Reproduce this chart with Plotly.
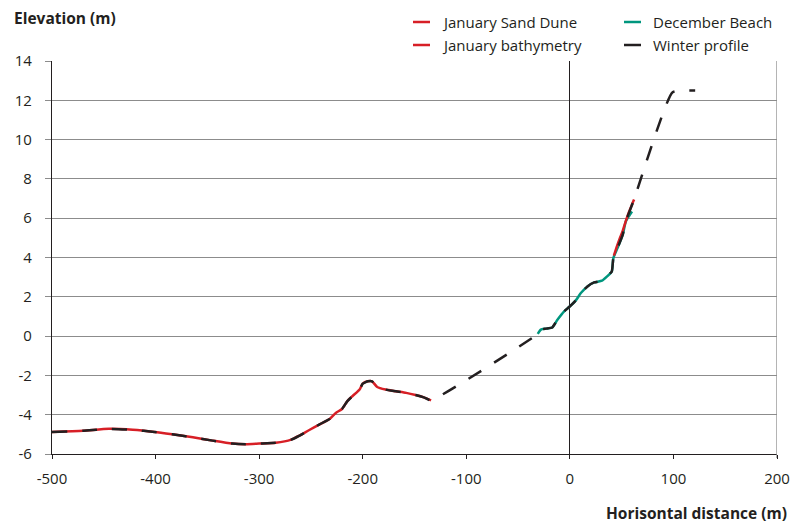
import plotly.graph_objects as go

# --- Profile data (horizontal distance in m, elevation in m) ---
january_bathymetry_x = [-500, -470, -445, -422, -401, -384, -364, -345, -326, -313, -300,
                        -284, -269, -261, -252, -242, -232, -226, -220, -215, -210, -203,
                        -200, -195, -191, -186, -178, -168, -158, -149, -141, -134]
january_bathymetry_y = [-4.88, -4.82, -4.72, -4.77, -4.88, -5.00, -5.15, -5.32, -5.47, -5.50, -5.47,
                        -5.43, -5.27, -5.06, -4.79, -4.50, -4.22, -3.91, -3.71, -3.32, -3.06, -2.72,
                        -2.42, -2.30, -2.30, -2.59, -2.72, -2.81, -2.89, -3.00, -3.12, -3.27]

december_beach_x = [-31, -28, -23, -17, -12, -5.5, -0.7, 5.8, 10.6, 17, 23.5, 31, 36, 40.5,
                    42, 46, 51, 54, 57, 60]
december_beach_y = [0.11, 0.33, 0.38, 0.44, 0.83, 1.26, 1.48, 1.82, 2.19, 2.53, 2.73, 2.82, 3.04, 3.29,
                    3.97, 4.48, 5.15, 5.83, 6.10, 6.34]

january_dune_x = [42.5, 45, 48, 51, 54, 57, 60, 62]
january_dune_y = [4.10, 4.50, 4.95, 5.35, 5.85, 6.30, 6.70, 6.95]

winter_x = [-500, -470, -445, -422, -401, -384, -364, -345, -326, -313, -300,
            -284, -269, -261, -252, -242, -232, -226, -220, -215, -210, -203,
            -200, -195, -191, -186, -178, -168, -158, -149, -141, -134,
            -31, -28, -23, -17, -12, -5.5, -0.7, 5.8, 10.6, 17, 23.5, 31, 36, 40.5,
            42, 46, 51, 54, 58, 62, 99, 121]
winter_y = [-4.88, -4.82, -4.72, -4.77, -4.88, -5.00, -5.15, -5.32, -5.47, -5.50, -5.47,
            -5.43, -5.27, -5.06, -4.79, -4.50, -4.22, -3.91, -3.71, -3.32, -3.06, -2.72,
            -2.42, -2.30, -2.30, -2.59, -2.72, -2.81, -2.89, -3.00, -3.12, -3.27,
            0.11, 0.33, 0.38, 0.44, 0.83, 1.26, 1.48, 1.82, 2.19, 2.53, 2.73, 2.82, 3.04, 3.29,
            3.97, 4.48, 5.15, 5.83, 6.40, 6.95, 12.40, 12.50]

x_ticks = [-500, -400, -300, -200, -100, 0, 100, 200]
y_ticks = [-6, -4, -2, 0, 2, 4, 6, 8, 10, 12, 14]

RED = "#d71f26"
TEAL = "#00967e"
BLACK = "#231f20"
GRID = "#8c8c8c"
FONT = "Open Sans"

# Plot area in pixels (used to place the legend and titles)
W, H = 792, 524
L, R, T, B = 52, 15, 61, 70
PW, PH = W - L - R, H - T - B


def px_x(p):
    return (p - L) / PW


def px_y(p):
    return (T + PH - p) / PH


fig = go.Figure()

fig.add_trace(go.Scatter(x=january_bathymetry_x, y=january_bathymetry_y, mode="lines",
                         line=dict(color=RED, width=2.5, shape="spline", smoothing=0.6),
                         name="January bathymetry", showlegend=False))
fig.add_trace(go.Scatter(x=december_beach_x, y=december_beach_y, mode="lines",
                         line=dict(color=TEAL, width=2.5, shape="spline", smoothing=0.6),
                         name="December Beach", showlegend=False))
fig.add_trace(go.Scatter(x=january_dune_x, y=january_dune_y, mode="lines",
                         line=dict(color=RED, width=2.5, shape="spline", smoothing=0.6),
                         name="January Sand Dune", showlegend=False))
fig.add_trace(go.Scatter(x=winter_x, y=winter_y, mode="lines",
                         line=dict(color=BLACK, width=2.5, dash="15px,15px",
                                   shape="spline", smoothing=0.4),
                         name="Winter profile", showlegend=False))

# Legend drawn as short line samples with labels, in two columns
legend_items = [
    ("January Sand Dune", RED, 413, 22),
    ("January bathymetry", RED, 413, 45),
    ("December Beach", TEAL, 624, 22),
    ("Winter profile", BLACK, 624, 45),
]
shapes = []
annotations = []
for label, color, x0, yc in legend_items:
    shapes.append(dict(type="line", xref="paper", yref="paper",
                       x0=px_x(x0), x1=px_x(x0 + 17), y0=px_y(yc), y1=px_y(yc),
                       line=dict(color=color, width=2.5)))
    annotations.append(dict(text=label, xref="paper", yref="paper",
                            x=px_x(x0 + 27), y=px_y(yc), xanchor="left", yanchor="middle",
                            showarrow=False, font=dict(family=FONT, size=15, color=BLACK)))

# Right border of the plot area
shapes.append(dict(type="line", xref="x", yref="paper", x0=200, x1=200, y0=-0.01, y1=1,
                   line=dict(color=GRID, width=1.3)))

annotations.append(dict(text="<b>Elevation (m)</b>", xref="paper", yref="paper",
                        x=px_x(12), y=px_y(18), xanchor="left", yanchor="middle",
                        showarrow=False, font=dict(family=FONT, size=15.5, color=BLACK)))
annotations.append(dict(text="<b>Horisontal distance (m)</b>", xref="paper", yref="paper",
                        x=px_x(789), y=px_y(513), xanchor="right", yanchor="middle",
                        showarrow=False, font=dict(family=FONT, size=15.5, color=BLACK)))

fig.update_layout(
    width=W, height=H,
    margin=dict(l=L, r=R, t=T, b=B, autoexpand=False),
    paper_bgcolor="white", plot_bgcolor="white",
    showlegend=False,
    shapes=shapes,
    annotations=annotations,
    font=dict(family=FONT, size=15, color=BLACK),
)

fig.update_xaxes(
    range=[-500, 200], tickvals=x_ticks, ticktext=[str(v) for v in x_ticks],
    automargin=False,
    showgrid=False, zeroline=True, zerolinecolor=BLACK, zerolinewidth=1.3,
    showline=True, linecolor=BLACK, linewidth=1.3,
    ticks="outside", ticklen=4, tickcolor=BLACK, tickwidth=1.3,
    ticklabelstandoff=7,
    tickfont=dict(family=FONT, size=15, color=BLACK),
)
fig.update_yaxes(
    range=[-6, 14], tickvals=y_ticks, ticktext=[str(v) for v in y_ticks],
    automargin=False,
    showgrid=True, gridcolor=GRID, gridwidth=1.3, zeroline=False,
    showline=True, linecolor=BLACK, linewidth=1.3,
    ticks="outside", ticklen=6, tickcolor=GRID, tickwidth=1.3,
    ticklabelstandoff=10,
    tickfont=dict(family=FONT, size=15, color=BLACK),
)

fig.write_html("out.html")
